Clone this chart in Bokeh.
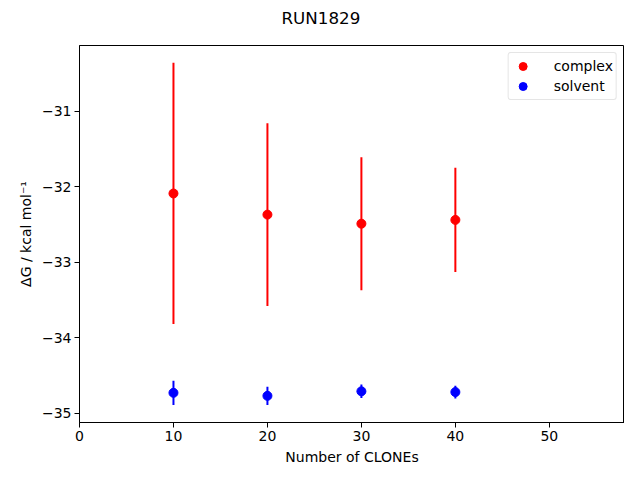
from bokeh.plotting import figure
from bokeh.models import Range1d, FixedTicker, ColumnDataSource, Title
from bokeh.embed import file_html
from bokeh.resources import INLINE

clones = [10, 20, 30, 40]
complex_dg = [-32.09, -32.37, -32.49, -32.44]
complex_err = [1.73, 1.21, 0.88, 0.69]
solvent_dg = [-34.73, -34.77, -34.71, -34.72]
solvent_err = [0.16, 0.12, 0.09, 0.085]

x_ticks = [0, 10, 20, 30, 40, 50]
y_ticks = [-35, -34, -33, -32, -31]

FONT = "DejaVu Sans"

p = figure(frame_width=545, frame_height=377, output_backend="svg", toolbar_location=None,
           x_range=Range1d(0, 58), y_range=Range1d(-35.123, -30.13),
           min_border_left=79, min_border_top=45, min_border_right=0, min_border_bottom=42,
           title="RUN1829")
p.title.align = "left"
p.title.offset = 202
p.title.standoff = 0
p.title.text_font = FONT
p.title.text_font_size = "16.7px"
p.title.text_font_style = "normal"
p.title.text_color = "black"

spacer = Title(text=" ", text_font_size="2px", standoff=14)
p.add_layout(spacer, "above")

p.grid.visible = False
p.outline_line_color = "black"
p.outline_line_width = 1

for ax in (p.xaxis[0], p.yaxis[0]):
    ax.major_label_text_font = FONT
    ax.major_label_text_font_size = "14px"
    ax.major_label_text_color = "black"
    ax.axis_label_text_font = FONT
    ax.axis_label_text_font_size = "14px"
    ax.axis_label_text_font_style = "normal"
    ax.axis_label_text_color = "black"
    ax.major_tick_in = 0
    ax.major_tick_out = 5
    ax.major_tick_line_color = "black"
    ax.minor_tick_out = 0
    ax.minor_tick_in = 0
    ax.axis_line_color = "black"
    ax.major_label_standoff = 3

p.xaxis.ticker = FixedTicker(ticks=x_ticks)
p.yaxis.ticker = FixedTicker(ticks=y_ticks)
p.yaxis.major_label_overrides = {t: ("\u2212" + str(abs(t))) for t in y_ticks}
p.xaxis.axis_label = "Number of CLONEs"
p.yaxis.axis_label = "\u0394G / kcal mol\u207b\u00b9"

src_c = ColumnDataSource(dict(x=clones, y=complex_dg,
                              lo=[v - e for v, e in zip(complex_dg, complex_err)],
                              hi=[v + e for v, e in zip(complex_dg, complex_err)]))
src_s = ColumnDataSource(dict(x=clones, y=solvent_dg,
                              lo=[v - e for v, e in zip(solvent_dg, solvent_err)],
                              hi=[v + e for v, e in zip(solvent_dg, solvent_err)]))

p.segment(x0="x", y0="lo", x1="x", y1="hi", source=src_c, line_color="#ff0000", line_width=2)
p.scatter(x="x", y="y", source=src_c, size=9, color="#ff0000", legend_label="complex")
p.segment(x0="x", y0="lo", x1="x", y1="hi", source=src_s, line_color="#0000ff", line_width=2)
p.scatter(x="x", y="y", source=src_s, size=9, color="#0000ff", legend_label="solvent")

lg = p.legend[0]
lg.location = "top_right"
lg.margin = 7
lg.padding = 3
lg.spacing = 0
lg.label_text_font = FONT
lg.label_text_font_size = "14px"
lg.label_text_color = "black"
lg.label_standoff = 20
lg.border_line_color = "#cccccc"
lg.label_height = 20
lg.glyph_height = 20
lg.glyph_width = 22
try:
    lg.border_radius = 3
except Exception:
    pass

open("out.html", "w").write(file_html(p, INLINE))
